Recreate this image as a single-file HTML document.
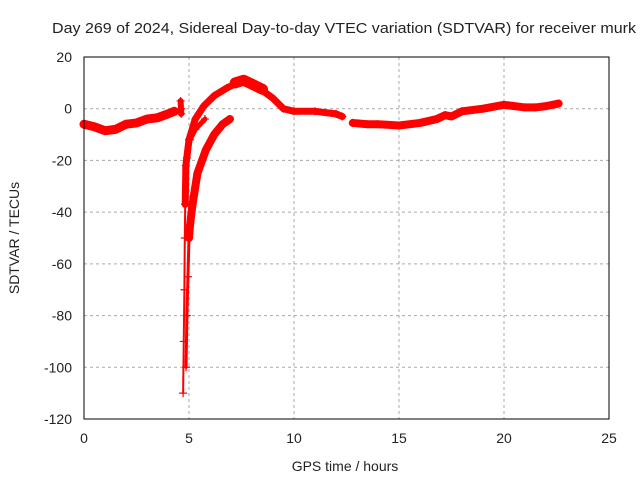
<!DOCTYPE html>
<html><head><meta charset="utf-8"><style>
body{margin:0;background:#fff}
text{font-family:"Liberation Sans",sans-serif;font-size:14px;fill:#222}
</style></head><body>
<svg id="chart" width="640" height="480" xmlns="http://www.w3.org/2000/svg">
<rect width="640" height="480" fill="#fff"/>
<text x="52" y="33" textLength="584" lengthAdjust="spacingAndGlyphs" style="font-size:15px">Day 269 of 2024, Sidereal Day-to-day VTEC variation (SDTVAR) for receiver murk</text>
<text x="345" y="471" text-anchor="middle">GPS time / hours</text>
<text transform="translate(19,238) rotate(-90)" text-anchor="middle">SDTVAR / TECUs</text>
<g id="grid"></g><g id="marks"></g>
<rect x="84" y="57" width="525" height="362" fill="none" stroke="#000" stroke-width="1"/>
</svg>
<script>
const xTicks=[0,5,10,15,20,25];
const yTicks=[20,0,-20,-40,-60,-80,-100,-120];
const segMorning=[[0,-6],[0.5,-7],[1,-8.5],[1.5,-8],[2,-6],[2.5,-5.5],[3,-4],[3.5,-3.5],[4,-2],[4.3,-1]];
const segSpike=[[4.6,3],[4.62,0],[4.63,-2]];
const outerTail=[[4.72,-110],[4.75,-90],[4.78,-70],[4.8,-50],[4.82,-37]];
const arcOuter=[[4.82,-37],[4.85,-22],[5.0,-12],[5.3,-4],[5.7,1],[6.2,5],[6.8,8],[7.3,10],[7.6,10.5],[8.0,9],[8.5,7],[9.0,4],[9.5,0],[10,-1],[11,-1],[12,-2],[12.3,-3]];
const arcPeak=[[7.2,10],[7.6,11],[8.0,9.5],[8.5,7.5]];
const arcMiddle=[[4.9,-19],[5.05,-12],[5.3,-8],[5.76,-4]];
const innerTail=[[4.86,-100],[4.9,-80],[4.95,-65],[5.0,-50]];
const arcInner=[[5.0,-50],[5.05,-45],[5.15,-38],[5.4,-25],[5.8,-16],[6.2,-10],[6.6,-6],[6.95,-4]];
const segAfternoon=[[12.8,-5.5],[13.5,-6],[14,-6],[15,-6.5],[16,-5.5],[16.8,-4],[17.2,-2.5],[17.5,-3],[18,-1],[19,0],[20,1.5],[21,0.5],[21.5,0.5],[22,1],[22.6,2]];
const xs=h=>84+h*21, ys=v=>57+(20-v)*362/140;
const NS='http://www.w3.org/2000/svg';
const g=document.getElementById('grid'), m=document.getElementById('marks'), svg=document.getElementById('chart');
xTicks.forEach(t=>{
 if(t>0&&t<25){const l=document.createElementNS(NS,'line');
 
 
 l.setAttribute('x1',xs(t));l.setAttribute('x2',xs(t));l.setAttribute('y1',57);l.setAttribute('y2',419);
 l.setAttribute('stroke','#aaa');l.setAttribute('stroke-dasharray','3,3');g.appendChild(l);}
 const tx=document.createElementNS(NS,'text');
 
 
 tx.setAttribute('x',xs(t));tx.setAttribute('y',443);tx.setAttribute('text-anchor','middle');tx.textContent=t;svg.appendChild(tx);
});
yTicks.forEach(t=>{
 if(t<20&&t>-120){const l=document.createElementNS(NS,'line');
 
 
 l.setAttribute('x1',84);l.setAttribute('x2',609);l.setAttribute('y1',ys(t));l.setAttribute('y2',ys(t));
 l.setAttribute('stroke','#aaa');l.setAttribute('stroke-dasharray','3,3');g.appendChild(l);}
 const tx=document.createElementNS(NS,'text');
 
 
 tx.setAttribute('x',72);tx.setAttribute('y',ys(t)+5);tx.setAttribute('text-anchor','end');tx.textContent=t;svg.appendChild(tx);
});
[[segMorning,'morning-series',9],[segSpike,'spike-series',6],[outerTail,'outer-tail-series',2],[arcOuter,'outer-arc-series',7],[arcPeak,'peak-series',11],[arcMiddle,'middle-arc-series',5],[innerTail,'inner-tail-series',3],[arcInner,'inner-arc-series',8],[segAfternoon,'afternoon-series',8]].forEach(([d,n,w])=>{
 const p=document.createElementNS(NS,'polyline');
 
 
 p.setAttribute('points',d.map(q=>xs(q[0])+','+ys(q[1])).join(' '));
 p.setAttribute('fill','none');p.setAttribute('stroke','#f00');p.setAttribute('stroke-width',w);p.setAttribute('stroke-linejoin','round');p.setAttribute('stroke-linecap','round');
 m.appendChild(p);
 d.forEach(q=>{const c=document.createElementNS(NS,'path');
  
  
  const X=xs(q[0]),Y=ys(q[1]);
  c.setAttribute('d',`M${X-4},${Y}H${X+4}M${X},${Y-4}V${Y+4}`);c.setAttribute('stroke','#f00');c.setAttribute('stroke-width',1.2);m.appendChild(c);});
});
</script>
</body></html>
